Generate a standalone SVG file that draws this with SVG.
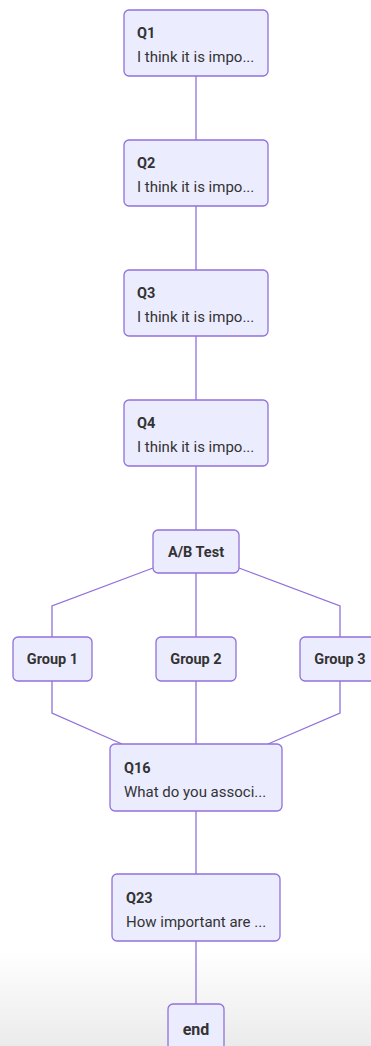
<svg xmlns="http://www.w3.org/2000/svg" width="371" height="1046" viewBox="0 0 371 1046">
<defs>
<linearGradient id="shade" x1="0" y1="0" x2="0" y2="1">
<stop offset="0" stop-color="#ffffff"/>
<stop offset="1" stop-color="#ebebeb"/>
</linearGradient>
<style>
.n rect{fill:#ECECFF;stroke:#9370DB;stroke-width:1.3}
.t{font-family:Roboto,"Liberation Sans",sans-serif;fill:#333;font-size:15px}
.b{font-weight:bold;font-size:14.5px}
.e{fill:none;stroke:#9370DB;stroke-width:1.3}
</style>
</defs>
<rect x="0" y="0" width="371" height="1046" fill="#ffffff"/>
<rect x="0" y="950" width="371" height="96" fill="url(#shade)"/>
<g id="connectors">
<path class="e" d="M196 76V140"/>
<path class="e" d="M196 206V270"/>
<path class="e" d="M196 336V400"/>
<path class="e" d="M196 466V530"/>
<path class="e" d="M153 568L52 606V637"/>
<path class="e" d="M196 573V637"/>
<path class="e" d="M239 568L340 606V637"/>
<path class="e" d="M52 681V713L122 744"/>
<path class="e" d="M196 681V744"/>
<path class="e" d="M340 681V713L268 744"/>
<path class="e" d="M196 811V874"/>
<path class="e" d="M196 941V1004"/>
</g>
<g id="Q1" class="n"><rect x="124" y="10" width="144" height="66" rx="5"/><text class="t b" x="137" y="38">Q1</text><text class="t" x="137" y="62">I think it is impo...</text></g>
<g id="Q2" class="n"><rect x="124" y="140" width="144" height="66" rx="5"/><text class="t b" x="137" y="168">Q2</text><text class="t" x="137" y="192">I think it is impo...</text></g>
<g id="Q3" class="n"><rect x="124" y="270" width="144" height="66" rx="5"/><text class="t b" x="137" y="298">Q3</text><text class="t" x="137" y="322">I think it is impo...</text></g>
<g id="Q4" class="n"><rect x="124" y="400" width="144" height="66" rx="5"/><text class="t b" x="137" y="428">Q4</text><text class="t" x="137" y="452">I think it is impo...</text></g>
<g id="ABTest" class="n"><rect x="153" y="530" width="86" height="43" rx="5"/><text class="t b" x="196" y="556.5" text-anchor="middle">A/B Test</text></g>
<g id="Group1" class="n"><rect x="13" y="637" width="79" height="44" rx="5"/><text class="t b" x="52.5" y="664" text-anchor="middle">Group 1</text></g>
<g id="Group2" class="n"><rect x="156" y="637" width="80" height="44" rx="5"/><text class="t b" x="196" y="664" text-anchor="middle">Group 2</text></g>
<g id="Group3" class="n"><rect x="300" y="637" width="80" height="44" rx="5"/><text class="t b" x="340" y="664" text-anchor="middle">Group 3</text></g>
<g id="Q16" class="n"><rect x="110" y="744" width="172" height="67" rx="5"/><text class="t b" x="124" y="773">Q16</text><text class="t" x="124" y="797">What do you associ...</text></g>
<g id="Q23" class="n"><rect x="112" y="874" width="168" height="67" rx="5"/><text class="t b" x="126" y="903">Q23</text><text class="t" x="126" y="927">How important are ...</text></g>
<g id="end" class="n"><rect x="168" y="1004" width="56" height="46" rx="5"/><text class="t b" x="196" y="1035" text-anchor="middle" style="font-size:16px">end</text></g>
</svg>
